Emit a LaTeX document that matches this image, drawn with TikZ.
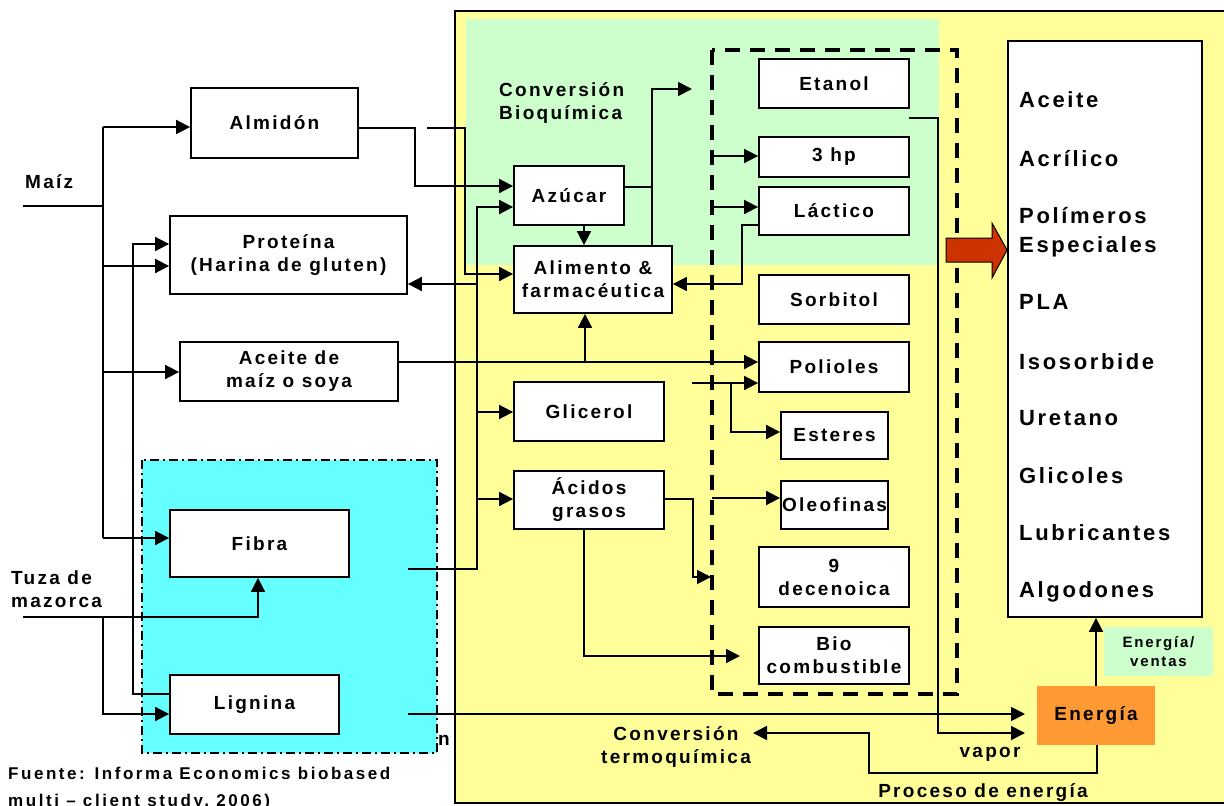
\documentclass[tikz,border=0pt]{standalone}
\usepackage{fontspec}
\setmainfont{Liberation Sans}[LetterSpace=12]
\newfontfamily\widefam{Liberation Sans}[LetterSpace=15]
\usetikzlibrary{arrows.meta}
\definecolor{yel}{HTML}{FFFF99}
\definecolor{grn}{HTML}{CCFFCC}
\definecolor{cyn}{HTML}{66FFFF}
\definecolor{org}{HTML}{FF9933}
\definecolor{redarr}{HTML}{CC3300}
\newcommand{\mainf}{\bfseries\fontsize{19}{23}\selectfont}
\newcommand{\bigf}{\bfseries\fontsize{22}{29}\selectfont}
\newcommand{\smallf}{\bfseries\fontsize{15}{19}\selectfont}
\begin{document}
\begin{tikzpicture}[x=1pt,y=-1pt,
  box/.style={draw, fill=white, line width=1.8pt, inner sep=0pt, align=center, font=\mainf},
  arr/.style={-{Triangle[length=14pt,width=14pt]}, line width=1.8pt},
  ln/.style={line width=1.8pt},
  lbl/.style={inner sep=0pt, font=\mainf, align=center}]
\useasboundingbox (0,0) rectangle (1224,806);
\clip (0,0) rectangle (1224,806);
\fill[white] (0,0) rectangle (1224,806);
% regions
\draw[fill=yel, line width=2pt] (455,11) rectangle (1230,803);
\fill[grn] (466,19) rectangle (939,265);
\fill[cyn] (142,460) rectangle (437,753);
\draw[line width=2pt, dash pattern=on 9pt off 4pt on 2pt off 4pt] (142,460) rectangle (437,753);
\draw[line width=4pt, dash pattern=on 15pt off 10pt] (712,50) rectangle (957,694);
% left column boxes
\node[box, minimum width=167pt, minimum height=70pt] (alm) at (274.5,123) {Almidón};
\node[box, minimum width=237pt, minimum height=78pt] (prot) at (288.5,255) {Proteína\\(Harina de gluten)};
\node[box, minimum width=218pt, minimum height=59pt] (aceite) at (289,371.5) {Aceite de\\maíz o soya};
\node[box, minimum width=179pt, minimum height=67pt] (fibra) at (259.5,543.5) {Fibra};
\node[box, minimum width=169pt, minimum height=59pt] (lign) at (254.5,704.5) {Lignina};
% middle column
\node[box, minimum width=110pt, minimum height=59pt] (azu) at (569,195.5) {Azúcar};
\node[box, minimum width=158pt, minimum height=67pt] (alim) at (593,279.5) {Alimento \&\\farmacéutica};
\node[box, minimum width=150pt, minimum height=59pt] (glic) at (589,411.5) {Glicerol};
\node[box, minimum width=150pt, minimum height=58pt] (acid) at (589,500) {Ácidos\\grasos};
% products column
\node[box, minimum width=150pt, minimum height=49pt] (etanol) at (834,83.5) {Etanol};
\node[box, minimum width=150pt, minimum height=40pt] (hp) at (834,157) {3 hp};
\node[box, minimum width=150pt, minimum height=48pt] (lact) at (834,211) {Láctico};
\node[box, minimum width=150pt, minimum height=49pt] (sorb) at (834,299.5) {Sorbitol};
\node[box, minimum width=150pt, minimum height=50pt] (poli) at (834,367) {Polioles};
\node[box, minimum width=107pt, minimum height=47pt] (est) at (834.5,435.5) {Esteres};
\node[box, minimum width=107pt, minimum height=48pt] (oleo) at (834.5,505) {Oleofinas};
\node[box, minimum width=150pt, minimum height=60pt] (dec) at (834,577) {9\\decenoica};
\node[box, minimum width=150pt, minimum height=57pt] (bio) at (834,655.5) {Bio\\combustible};
% final products
\node[box, minimum width=194pt, minimum height=576pt] (prod) at (1105,329) {};
\begin{scope}[every node/.style={inner sep=0pt, font=\bigf, anchor=base west}]
\node (p1) at (1019,107) {Aceite};
\node (p2) at (1019,166) {Acrílico};
\node (p3) at (1019,223) {Polímeros};
\node (p3b) at (1019,252) {Especiales};
\node (p4) at (1019,309) {PLA};
\node (p5) at (1019,369) {Isosorbide};
\node (p6) at (1019,425) {Uretano};
\node (p7) at (1019,483) {Glicoles};
\node (p8) at (1019,540) {Lubricantes};
\node (p9) at (1019,597) {Algodones};
\end{scope}
\node[fill=org, minimum width=118pt, minimum height=59pt, inner sep=0pt, font=\bfseries\fontsize{19}{23}\selectfont] (energia) at (1096,715.5) {Energía};
\node[fill=grn, minimum width=109pt, minimum height=49pt, inner sep=0pt, align=center, font=\smallf] (ev) at (1158.5,651.5) {Energía/\\ventas};
% red block arrow
\draw[fill=redarr, line width=1pt] (946,238) -- (992,238) -- (992,223) -- (prod.west |- 0,250) -- (992,278) -- (992,262) -- (946,262) -- cycle;
% free text
\node[lbl, anchor=base west] (maiz) at (25,188) {Maíz};
\node[lbl, align=left, anchor=west] (tuza) at (11,589) {Tuza de\\mazorca};
\node[lbl, align=left, anchor=west] (cbio) at (499,103) {Conversión\\Bioquímica};
\node[lbl] (cterm) at (676,747) {Conversión\\termoquímica};
\node[lbl] (vapor) at (990,754) {vapor};
\node[lbl] (proc) at (983,793) {Proceso de energía};
\node[lbl] (nn) at (444,740) {n};
\node[lbl, align=left, anchor=north west, font=\widefam\bfseries\fontsize{17}{27}\selectfont] (fuente) at (8,767) {Fuente: Informa Economics biobased\\multi – client study, 2006)};
% free ends
\coordinate (maizin) at (23,206);
\coordinate (tuzain) at (23,617);
\coordinate (f1) at (427,128);
\coordinate (f2) at (408,569);
\coordinate (f3) at (408,714);
\coordinate (f4) at (692,89);
\coordinate (f5) at (692,383);
\coordinate (f6) at (712,156);
\coordinate (f7) at (712,207);
\coordinate (f8) at (712,498);
\coordinate (f9) at (909,118);
\coordinate (d1) at (711,577);
\coordinate (d2) at (740,656);
\coordinate (e1) at (1025,714);
\coordinate (e2) at (1025,733);
\coordinate (ct) at (753,733);
% Maiz trunk
\draw[ln] (maizin) -- (103,206);
\draw[ln] (103,127) -- (103,538);
\draw[arr] (103,127) -- (alm.west |- 0,127);
\draw[arr] (103,266) -- (prot.west |- 0,266);
\draw[arr] (103,372) -- (aceite.west |- 0,372);
\draw[arr] (103,538) -- (fibra.west |- 0,538);
% Tuza
\draw[arr] (tuzain) -| (fibra.south -| 258,0);
\draw[arr] (103,617) -- (103,714) -- (lign.west |- 0,714);
\draw[arr] (lign.west |- 0,694) -- (133,694) -- (133,244) -- (prot.west |- 0,244);
% Almidon
\draw[arr] (alm.east |- 0,128) -- (415,128) -- (415,186) -- (azu.west |- 0,186);
\draw[arr] (f1) -- (465,128) -- (465,274) -- (alim.west |- 0,274);
% Fibra line
\draw[arr] (f2) -- (477,569) -- (477,207) -- (azu.west |- 0,207);
\draw[arr] (477,284) -- (prot.east |- 0,284);
\draw[arr] (477,412) -- (glic.west |- 0,412);
\draw[arr] (477,499) -- (acid.west |- 0,499);
% Lignina to energy
\draw[arr] (f3) -- (e1);
% Aceite
\draw[arr] (aceite.east |- 0,362) -- (poli.west |- 0,362);
\draw[arr] (585,362) -- (alim.south -| 585,0);
% Azucar
\draw[arr] (azu.south -| 584,0) -- (alim.north -| 584,0);
\draw[ln] (azu.east |- 0,187) -- (652,187);
\draw[arr] (alim.north -| 652,0) -- (652,89) -- (f4);
% products inputs
\draw[arr] (f6) -- (hp.west |- 0,156);
\draw[arr] (f7) -- (lact.west |- 0,207);
\draw[arr] (lact.west |- 0,225) -- (742,225) -- (742,284) -- (alim.east |- 0,284);
\draw[arr] (f5) -- (poli.west |- 0,383);
\draw[arr] (731,383) -- (731,432) -- (est.west |- 0,432);
\draw[arr] (f8) -- (oleo.west |- 0,498);
% Acidos grasos
\draw[arr] (acid.east |- 0,499) -- (693,499) -- (693,577) -- (d1);
\draw[arr] (acid.south -| 584,0) -- (584,656) -- (d2);
% Etanol / vapor
\draw[arr] (f9) -- (938,118) -- (938,733) -- (e2);
% energy loops
\draw[arr] (energia.south -| 1097,0) -- (1097,773) -- (869,773) -- (869,733) -- (ct);
\draw[arr] (energia.north -| 1096,0) -- (prod.south -| 1096,0);
\end{tikzpicture}
\end{document}
